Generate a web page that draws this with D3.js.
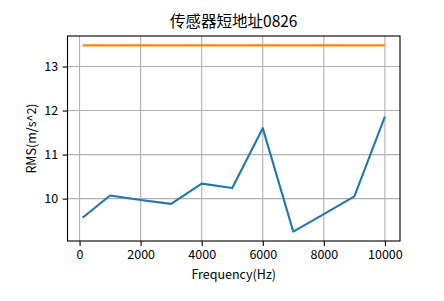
<!DOCTYPE html>
<html>
<head>
<meta charset="utf-8">
<script src="https://cdn.jsdelivr.net/npm/d3@7"></script>
<style>
  body { margin: 0; background: #fff; }
  text { font-family: "Noto Sans CJK SC", sans-serif; fill: #000; }
</style>
</head>
<body>
<script>
// values
var freqs = [100, 300, 1000, 2000, 3000, 4000, 5000, 6000, 7000, 8000, 9000, 10000];
var rms = [9.57, 9.68, 10.07, 9.97, 9.88, 10.34, 10.24, 11.60, 9.25, 9.65, 10.05, 11.86];
var limitX = [100, 10000];
var limitY = [13.48, 13.48];
var xTicks = [0, 2000, 4000, 6000, 8000, 10000];
var yTicks = [10, 11, 12, 13];

var width = 444, height = 301;
var margin = {top: 36, right: 44, bottom: 60, left: 67.5};

var svg = d3.select('body')
  .append('svg')
  .attr('width', width)
  .attr('height', height);

var x = d3.scaleLinear()
  .domain([100 - 495, 10000 + 495])
  .range([margin.left, width - margin.right]);

var y = d3.scaleLinear()
  .domain([9.038, 13.692])
  .range([height - margin.bottom, margin.top]);

//grid lines
svg.append('g')
  .selectAll('line.gx')
  .data(xTicks)
  .enter()
  .append('line')
  .attr('x1', function(d) { return x(d); })
  .attr('x2', function(d) { return x(d); })
  .attr('y1', margin.top)
  .attr('y2', height - margin.bottom)
  .attr('stroke', '#b0b0b0')
  .attr('stroke-width', 1.1);

svg.append('g')
  .selectAll('line.gy')
  .data(yTicks)
  .enter()
  .append('line')
  .attr('y1', function(d) { return y(d); })
  .attr('y2', function(d) { return y(d); })
  .attr('x1', margin.left)
  .attr('x2', width - margin.right)
  .attr('stroke', '#b0b0b0')
  .attr('stroke-width', 1.1);

var line = d3.line()
  .x(function(d) { return x(d[0]); })
  .y(function(d) { return y(d[1]); });

svg.append('path')
  .datum(d3.zip(freqs, rms))
  .attr('d', line)
  .attr('fill', 'none')
  .attr('stroke', '#1f77b4')
  .attr('stroke-width', 2.1)
  .attr('stroke-linejoin', 'round');

svg.append('path')
  .datum(d3.zip(limitX, limitY))
  .attr('d', line)
  .attr('fill', 'none')
  .attr('stroke', '#ff7f0e')
  .attr('stroke-width', 2.1);

//axes
var xAxis = svg.append('g')
  .attr('transform', 'translate(0,' + (height - margin.bottom) + ')')
  .call(d3.axisBottom(x).tickValues(xTicks).tickFormat(d3.format('d')).tickSize(4.9).tickPadding(4.5));

var yAxis = svg.append('g')
  .attr('transform', 'translate(' + margin.left + ',0)')
  .call(d3.axisLeft(y).tickValues(yTicks).tickFormat(d3.format('d')).tickSize(4.9).tickPadding(4.5));

[xAxis, yAxis].forEach(function(a) {
  a.select('.domain').remove();
  a.selectAll('line').attr('stroke', '#000').attr('stroke-width', 1.1);
  a.selectAll('text')
    .attr('font-family', '"Noto Sans CJK SC", sans-serif')
    .attr('font-size', 12.5);
});

//frame
svg.append('rect')
  .attr('x', margin.left)
  .attr('y', margin.top)
  .attr('width', width - margin.left - margin.right)
  .attr('height', height - margin.top - margin.bottom)
  .attr('fill', 'none')
  .attr('stroke', '#000')
  .attr('stroke-width', 1.1);

//title and labels
svg.append('text')
  .attr('x', (margin.left + width - margin.right) / 2)
  .attr('y', 27)
  .attr('text-anchor', 'middle')
  .attr('font-size', 15.5)
  .text('传感器短地址0826');

svg.append('text')
  .attr('x', (margin.left + width - margin.right) / 2)
  .attr('y', 279)
  .attr('text-anchor', 'middle')
  .attr('font-size', 12.5)
  .text('Frequency(Hz)');

svg.append('text')
  .attr('transform', 'translate(36,' + ((margin.top + height - margin.bottom) / 2) + ') rotate(-90)')
  .attr('text-anchor', 'middle')
  .attr('font-size', 12.5)
  .text('RMS(m/s^2)');
</script>
</body>
</html>
